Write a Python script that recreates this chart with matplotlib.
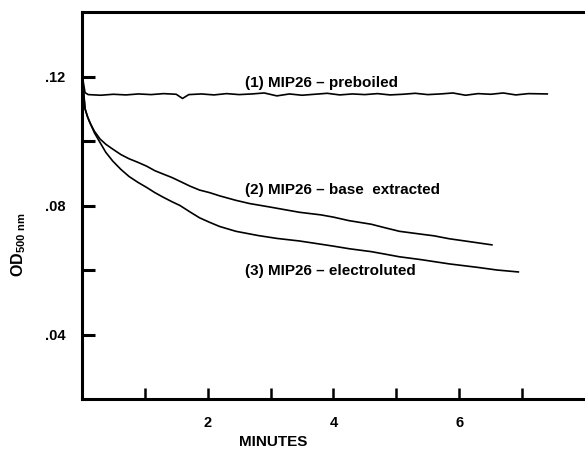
#!/usr/bin/env python3
"""Recreate the MIP26 optical density vs time trace figure."""

import matplotlib
matplotlib.use("Agg")
import matplotlib.pyplot as plt

# readings (minutes, OD 500 nm)
t_preboiled = [0.0, 0.02, 0.05, 0.1, 0.3, 0.5, 0.7, 0.9, 1.1, 1.3, 1.5, 1.6, 1.7,
               1.9, 2.1, 2.3, 2.5, 2.7, 2.9, 3.1, 3.3, 3.5, 3.7, 3.9, 4.1, 4.3,
               4.5, 4.7, 4.9, 5.1, 5.3, 5.5, 5.7, 5.9, 6.1, 6.3, 6.5, 6.7, 6.9,
               7.1, 7.4]
od_preboiled = [0.1175, 0.1185, 0.1150, 0.1144, 0.1142, 0.1145, 0.1143, 0.1146,
                0.1144, 0.1147, 0.1145, 0.1132, 0.1144, 0.1146, 0.1143, 0.1147,
                0.1144, 0.1146, 0.1149, 0.1140, 0.1146, 0.1142, 0.1145, 0.1148,
                0.1143, 0.1146, 0.1144, 0.1147, 0.1143, 0.1145, 0.1148, 0.1144,
                0.1146, 0.1149, 0.1142, 0.1147, 0.1145, 0.1149, 0.1143, 0.1147,
                0.1146]

t_base = [0.0, 0.02, 0.05, 0.09, 0.13, 0.2, 0.29, 0.38, 0.49, 0.62, 0.75, 0.89,
          1.03, 1.16, 1.3, 1.43, 1.56, 1.72, 1.87, 2.03, 2.19, 2.45, 2.67, 3.0,
          3.2, 3.46, 3.8, 4.0, 4.25, 4.6, 4.8, 5.05, 5.4, 5.6, 5.84, 6.2, 6.52]
od_base = [0.1190, 0.1170, 0.1100, 0.1075, 0.1056, 0.1030, 0.1006, 0.0990,
           0.0975, 0.0958, 0.0945, 0.0934, 0.0922, 0.0908, 0.0897, 0.0887,
           0.0875, 0.0860, 0.0848, 0.0840, 0.0830, 0.0816, 0.0806, 0.0795,
           0.0788, 0.0779, 0.0771, 0.0764, 0.0753, 0.0742, 0.0732, 0.0720,
           0.0711, 0.0706, 0.0697, 0.0687, 0.0678]

t_electro = [0.0, 0.02, 0.05, 0.09, 0.13, 0.2, 0.29, 0.38, 0.49, 0.62, 0.75,
             0.89, 1.03, 1.16, 1.3, 1.43, 1.56, 1.72, 1.87, 2.03, 2.19, 2.45,
             2.8, 3.1, 3.46, 3.8, 4.0, 4.25, 4.6, 4.8, 5.05, 5.4, 5.84, 6.3,
             6.6, 6.94]
od_electro = [0.1195, 0.1165, 0.1100, 0.1075, 0.1056, 0.1025, 0.0995, 0.0965,
              0.0938, 0.0912, 0.0890, 0.0872, 0.0856, 0.0840, 0.0825, 0.0812,
              0.0800, 0.0780, 0.0762, 0.0748, 0.0735, 0.0720, 0.0707, 0.0698,
              0.0690, 0.0680, 0.0674, 0.0666, 0.0657, 0.0650, 0.0641, 0.0632,
              0.0619, 0.0608, 0.0600, 0.0594]

y_ticks = [0.04, 0.06, 0.08, 0.10, 0.12]
y_labels = [".04", "", ".08", "", ".12"]
x_ticks = [1, 2, 3, 4, 5, 6, 7]
x_labels = ["", "2", "", "4", "", "6", ""]

# (x, y, text) for the curve captions
captions = [
    (2.59, 0.1180, "(1) MIP26 \u2013 preboiled"),
    (2.59, 0.0847, "(2) MIP26 \u2013 base  extracted"),
    (2.59, 0.0597, "(3) MIP26 \u2013 electroluted"),
]

plt.rcParams["font.family"] = ["Liberation Sans", "DejaVu Sans"]
plt.rcParams["font.weight"] = "bold"
plt.rcParams["mathtext.fontset"] = "custom"
plt.rcParams["mathtext.bf"] = "Liberation Sans:bold"
plt.rcParams["mathtext.rm"] = "Liberation Sans:bold"
plt.rcParams["mathtext.default"] = "bf"

fig = plt.figure(figsize=(5.85, 4.51), dpi=100)
ax = fig.add_axes([0.140, 0.1153, 0.86, 0.858])

for t, od in [(t_preboiled, od_preboiled), (t_base, od_base), (t_electro, od_electro)]:
    ax.plot(t, od, color="black", linewidth=1.2)

ax.set_xlim(0, 8)
ax.set_ylim(0.02, 0.14)

ax.spines["right"].set_visible(False)
for side in ("left", "bottom", "top"):
    ax.spines[side].set_linewidth(2.2)

ax.set_yticks(y_ticks)
ax.set_yticklabels(y_labels)
ax.set_xticks(x_ticks)
ax.set_xticklabels(x_labels)
ax.tick_params(axis="y", direction="in", length=9, width=2.2, pad=12, labelsize=10.5)
ax.tick_params(axis="x", direction="in", length=8, width=1.8, pad=12, labelsize=10.5)

for x, y, s in captions:
    ax.text(x, y, s, fontsize=11, fontweight="bold", va="center", ha="left")

ax.set_xlabel("MINUTES", fontsize=11, fontweight="bold")
ax.xaxis.set_label_coords(0.38, -0.092)
ax.set_ylabel(r"OD$_{500\ nm}$", fontsize=11.5, fontweight="bold")
ax.yaxis.set_label_coords(-0.108, 0.40)

fig.savefig("out.png", dpi=100)
print("Saved plot to out.png")
